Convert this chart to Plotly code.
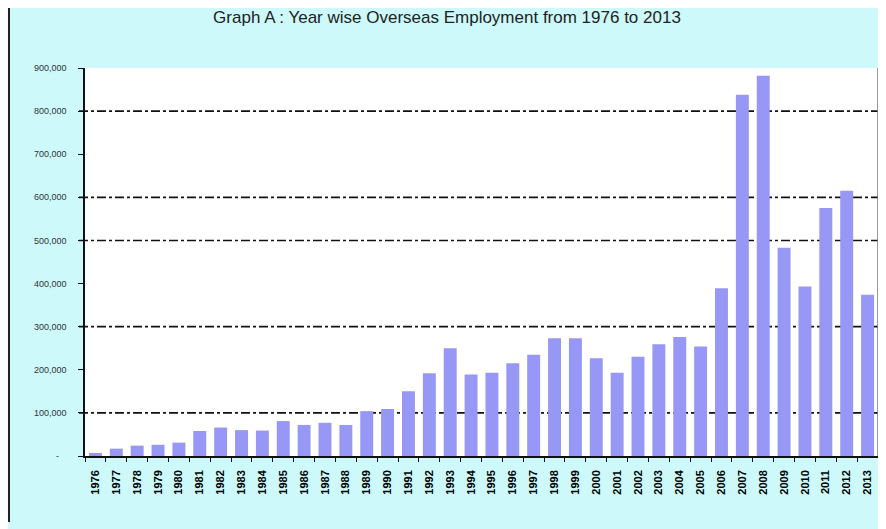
import plotly.graph_objects as go

years = [str(y) for y in range(1976, 2014)]
employment = [
    7000, 17000, 24000, 26000, 31000, 58000, 66000, 60000, 59000, 81000,
    72000, 77000, 72000, 104000, 109000, 150000, 192000, 250000, 189000, 193000,
    215000, 235000, 273000, 273000, 227000, 193000, 230000, 259000, 276000, 254000,
    389000, 838000, 882000, 483000, 393000, 575000, 615000, 374000,
]
y_ticks = [0, 100000, 200000, 300000, 400000, 500000, 600000, 700000, 800000, 900000]
y_tick_text = ["-\u00a0\u00a0\u00a0", "100,000", "200,000", "300,000", "400,000", "500,000",
               "600,000", "700,000", "800,000", "900,000"]
grid_levels = [100000, 300000, 500000, 600000, 800000]

title = "Graph A : Year wise Overseas Employment from 1976 to 2013"

fig = go.Figure()
fig.add_trace(go.Bar(
    x=years, y=employment,
    marker=dict(color="#9797F5", line=dict(width=0)),
    hoverinfo="x+y",
))

plot_w = 878 - 77 - 8

shapes = []
for g in grid_levels:
    shapes.append(dict(type="line", xref="paper", yref="y", x0=-6 / plot_w, x1=1, y0=g, y1=g,
                       line=dict(color="#111111", width=1.6, dash="dashdot"), layer="below"))
# right border of plot area
shapes.append(dict(type="line", xref="paper", yref="paper", x0=1, x1=1, y0=0, y1=1.0,
                   line=dict(color="#777777", width=1.5)))
# outer left border of chart
shapes.append(dict(type="line", xref="paper", yref="paper", x0=-76 / plot_w, x1=-76 / plot_w,
                   y0=-0.17, y1=1.2, line=dict(color="#222222", width=2)))

fig.update_layout(
    width=878, height=521,
    margin=dict(l=77, r=8, t=60, b=73),
    paper_bgcolor="#cdf9fb",
    plot_bgcolor="#ffffff",
    bargap=0.38,
    showlegend=False,
    shapes=shapes,
    title=dict(text=title, x=0.5, xanchor="center", y=0.983, yanchor="middle",
               font=dict(family="Arial, Liberation Sans", size=17, color="#222222")),
    xaxis=dict(
        type="category",
        tickangle=-90,
        tickfont=dict(family="Arial, Liberation Sans", size=11, color="#000000", weight="bold"),
        showline=True, linecolor="#111111", linewidth=1.5,
        ticks="outside", tickson="boundaries", ticklen=4, tickcolor="#111111",
        ticklabelstandoff=8,
        showgrid=False,
    ),
    yaxis=dict(
        range=[0, 900000],
        tickvals=y_ticks, ticktext=y_tick_text,
        tickfont=dict(family="Arial, Liberation Sans", size=9, color="#333333"),
        showline=True, linecolor="#111111", linewidth=1.5,
        ticks="outside", ticklen=5, tickcolor="#111111",
        ticklabelstandoff=10,
        showgrid=False, zeroline=False,
    ),
)

fig.write_html("out.html")
